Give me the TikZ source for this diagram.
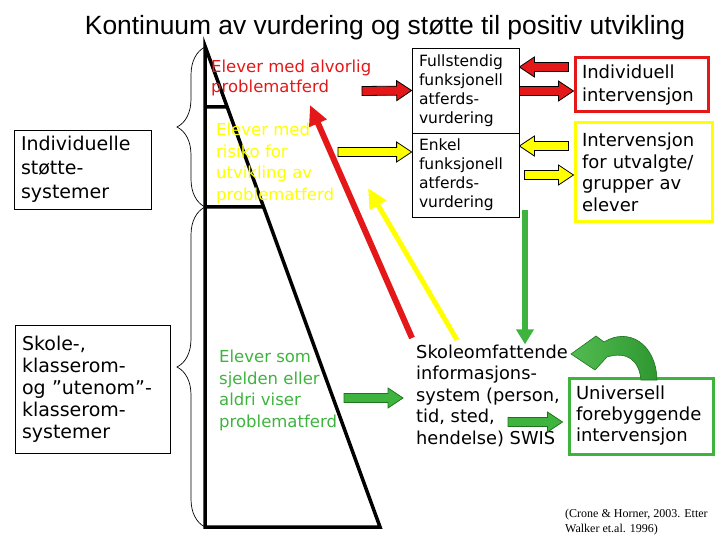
\documentclass[tikz,border=0pt]{standalone}
\usepackage{fontspec}
\setmainfont{DejaVu Sans}
\newfontfamily\titlefont{Liberation Sans}
\newfontfamily\citefont{Liberation Serif}
\usetikzlibrary{calc,arrows.meta,decorations.pathreplacing}

\definecolor{rodt}{RGB}{228,24,24}
\definecolor{gult}{RGB}{255,255,0}
\definecolor{gront}{RGB}{62,180,62}
\definecolor{morkgront}{RGB}{30,115,30}

% blokkpil: fra #1 til #2, fyll #3, kant #4
\newcommand{\blokkpil}[4]{%
  \coordinate (bp-a) at (#1);
  \coordinate (bp-b) at (#2);
  \coordinate (bp-h) at ($(bp-b)!15pt!(bp-a)$);
  \draw[draw=#4, fill=#3, line width=0.8pt, line join=miter]
    ($(bp-a)!4.5pt!90:(bp-b)$) -- ($(bp-h)!4.5pt!90:(bp-b)$) -- ($(bp-h)!10pt!90:(bp-b)$) -- (bp-b)
    -- ($(bp-h)!10pt!-90:(bp-b)$) -- ($(bp-h)!4.5pt!-90:(bp-b)$) -- ($(bp-a)!4.5pt!-90:(bp-b)$) -- cycle;
}

\begin{document}
\begin{tikzpicture}[x=1pt, y=-1pt,
    tekst/.style={inner sep=0pt, align=left, anchor=west},
    boks/.style={draw, line width=0.8pt, inner xsep=7pt, inner ysep=0pt, align=left},
    langpil/.style={line width=#1, -{Triangle[length=20pt,width=18pt]}}]
    \useasboundingbox (0,0) rectangle (720,540);

    % Tittel
    \node[font=\titlefont\fontsize{26.4}{30}\selectfont, inner sep=0pt] (tittel) at (385,28)
        {Kontinuum av vurdering og støtte til positiv utvikling};

    % Trekanten
    \coordinate (topp) at (205,46);
    \coordinate (bunnv) at (205,527);
    \coordinate (bunnh) at (380,527);
    \draw[line width=3.5pt, line join=miter] (topp) -- (bunnv) -- (bunnh) -- cycle;
    \draw[line width=3.5pt] (205,107) -- ($(topp)!{61/481}!(bunnh)$);
    \draw[line width=3.5pt] (205,207) -- ($(topp)!{161/481}!(bunnh)$);

    % Klammer
    \draw[decorate, decoration={brace, amplitude=28pt}, line width=0.7pt] (205,207) -- (205,47);
    \draw[decorate, decoration={brace, amplitude=28pt}, line width=0.7pt] (205,527) -- (205,207);

    % Bokser til venstre
    \node[boks, text width=123pt, minimum height=79pt, font=\fontsize{19}{24}\selectfont] (stotte) at (82.5,169.5)
        {Individuelle\\støtte-\\systemer};
    \node[boks, text width=141pt, minimum height=128pt, font=\fontsize{19}{22}\selectfont] (skolesys) at (92.5,389)
        {Skole-,\\klasserom-\\og ”utenom”-\\klasserom-\\systemer};

    % Tekst i trekanten
    \node[tekst, text=rodt, font=\fontsize{16.5}{20}\selectfont] (alvorlig) at (211,78)
        {Elever med alvorlig\\problematferd};
    \node[tekst, text=gult, font=\fontsize{16.5}{21.5}\selectfont] (risiko) at (216,163.5)
        {Elever med\\risiko for\\utvikling av\\problematferd};
    \node[tekst, text=gront, font=\fontsize{16.5}{21.5}\selectfont] (sjelden) at (219,390.5)
        {Elever som\\sjelden eller\\aldri viser\\problematferd};

    % Vurdering i midten
    \node[boks, text width=93pt, minimum height=85pt, font=\fontsize{15.5}{19}\selectfont] (full) at (465.5,90.5)
        {Fullstendig\\funksjonell\\atferds-\\vurdering};
    \node[boks, text width=93pt, minimum height=84pt, font=\fontsize{15.5}{19}\selectfont] (enkel) at (465.5,175)
        {Enkel\\funksjonell\\atferds-\\vurdering};
    \node[tekst, font=\fontsize{17.8}{21.5}\selectfont] (swis) at (416,395.5)
        {Skoleomfattende\\informasjons-\\system (person,\\tid, sted,\\hendelse) SWIS};

    % Intervensjoner til høyre
    \node[boks, draw=rodt, line width=3pt, text width=119pt, minimum height=54pt, font=\fontsize{18}{23}\selectfont] (indiv) at (641.5,85)
        {Individuell\\intervensjon};
    \node[boks, draw=gult, line width=3pt, text width=123pt, minimum height=99pt, font=\fontsize{18}{21.5}\selectfont] (utvalgte) at (643.5,172.5)
        {Intervensjon\\for utvalgte/\\grupper av\\elever};
    \node[boks, draw=gront, line width=3pt, text width=130pt, minimum height=76pt, font=\fontsize{18}{21}\selectfont] (universell) at (641,416)
        {Universell\\forebyggende\\intervensjon};

    % Kilde
    \node[tekst, font=\citefont\fontsize{12}{15}\selectfont] (kilde) at (565,522.5)
        {(Crone \& Horner, 2003. Etter\\Walker et.al. 1996)};

    % Lange piler opp fra SWIS
    \coordinate (rodstart) at (412,338);
    \coordinate (rodslutt) at (310,105);
    \coordinate (gulstart) at (457,340);
    \coordinate (gulslutt) at (368,188);
    \draw[rodt, langpil=6pt] (rodstart) -- (rodslutt);
    \draw[gult, langpil=5pt] (gulstart) -- (gulslutt);
    \coordinate (gronnstart) at (525,210);
    \draw[gront, line width=5.5pt, -{Triangle[length=15pt,width=17pt]}] (gronnstart) -- (gronnstart |- swis.north);

    % Blokkpiler
    \coordinate (rodpil) at (362,91);
    \coordinate (gulpil) at (338,152);
    \coordinate (gronnpil) at (344,398);
    \coordinate (gronnpil2) at (508,422);
    \blokkpil{rodpil}{full.west}{rodt}{black}
    \blokkpil{$(indiv.west)+(-5,-18)$}{$(full.east)+(0,-23.5)$}{rodt}{black}
    \blokkpil{$(full.east)+(0,0.5)$}{$(indiv.west)+(0,6)$}{rodt}{black}
    \blokkpil{gulpil}{enkel.west |- gulpil}{gult}{black}
    \blokkpil{$(utvalgte.west)+(-5,-26.5)$}{$(enkel.east)+(0,-29)$}{gult}{black}
    \blokkpil{$(enkel.east)+(5,0)$}{$(utvalgte.west)+(0,2.5)$}{gult}{black}
    \blokkpil{gronnpil}{$(swis.west |- gronnpil)+(-13,0)$}{gront}{morkgront}
    \blokkpil{gronnpil2}{$(universell.west)+(-5,6)$}{gront}{morkgront}

    % Buet pil tilbake
    \draw[morkgront, line width=0.6pt, left color=gront!90!white, right color=morkgront!45!gront]
        (641,380) .. controls (639,360) and (627,351) .. (607,357) -- (595,370) -- (571,354)
        -- (596,336) -- (604,342) .. controls (628,327) and (656,343) .. (657,380) -- cycle;
\end{tikzpicture}
\end{document}
